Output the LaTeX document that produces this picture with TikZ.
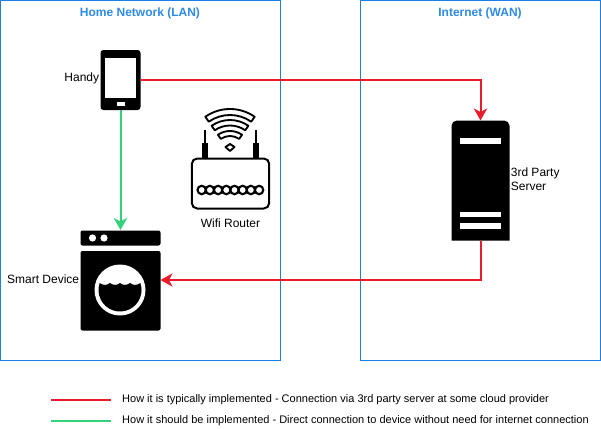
\documentclass[tikz,border=0pt]{standalone}
\usepackage{xcolor}
\usepackage{fontspec}
\setmainfont{Liberation Sans}
\usetikzlibrary{arrows.meta,positioning}
\definecolor{ZoneBlue}{HTML}{1A7FE8}
\definecolor{TitleBlue}{HTML}{2D8AE6}
\definecolor{LinkRed}{HTML}{EA1C2C}
\definecolor{LinkGreen}{HTML}{33D17A}
\tikzset{
  zone/.style={draw=ZoneBlue,line width=.75pt},
  zonetitle/.style={font=\bfseries\fontsize{9}{11}\selectfont,text=TitleBlue,inner sep=0pt},
  icon/.style={inner sep=0pt,outer sep=0pt},
  caption/.style={font=\fontsize{9}{10.5}\selectfont,inner sep=1.5pt,align=left},
  legendtext/.style={font=\fontsize{8.25}{10}\selectfont,inner sep=0pt,anchor=west},
  redflow/.style={-{Stealth[length=9pt,width=10pt,inset=2.6pt]},line width=1.5pt,draw=LinkRed},
  greenflow/.style={-{Stealth[length=9pt,width=10pt,inset=2.6pt]},line width=1.5pt,draw=LinkGreen},
  wifiband/.style={draw=black,fill=white,line width=1.4pt,line join=round}
}
\begin{document}
\begin{tikzpicture}[x=.75pt,y=.75pt]
  \useasboundingbox (0,0) rectangle (601,-429);
  % zones
  \node[zone,icon,minimum width=210pt,minimum height=270pt,anchor=north west] (lan) at (.5,-.5) {};
  \node[zone,icon,minimum width=180pt,minimum height=270pt,anchor=north west] (wan) at (360.5,-.5) {};
  \node[zonetitle] (lantitle) at (140,-13) {Home Network (LAN)};
  \node[zonetitle] (wantitle) at (480,-13) {Internet (WAN)};
  % phone
  \node[icon,fill=black,rounded corners=2.2pt,minimum width=30pt,minimum height=45pt] (phone) at (120.5,-80) {};
  \fill[white] (105,-58) rectangle (136,-98);
  \fill[white] (116.5,-102) rectangle (124.5,-105.5);
  \node[caption,left=-.7pt of phone,yshift=1pt] (handy) {Handy};
  % washing machine
  \node[icon,minimum width=60pt,minimum height=75pt] (washer) at (120.5,-280) {};
  \fill[black,rounded corners=1.5pt] (80.5,-245.5) -- (80.5,-230.5) -- (160.5,-230.5) -- (160.5,-245.5) -- cycle;
  \fill[black,rounded corners=1.5pt] (80.5,-330.5) -- (80.5,-251) -- (160.5,-251) -- (160.5,-330.5) -- cycle;
  \fill[white] (92.5,-238) circle[radius=3.6];
  \fill[white] (104,-238) circle[radius=3.6];
  \fill[white] (120,-290) circle[radius=25.5];
  \fill[black] (99.7,-283) arc[start angle=161,end angle=379,radius=21.5]
    .. controls (137,-285.5) and (133,-285.5) .. (130.1,-283)
    .. controls (127,-285.5) and (123,-285.5) .. (120,-283)
    .. controls (117,-285.5) and (113,-285.5) .. (109.9,-283)
    .. controls (107,-285.5) and (103,-285.5) .. (99.7,-283) -- cycle;
  \node[caption,left=-.7pt of washer,yshift=.5pt] (washerlabel) {Smart Device};
  % router
  \fill[black] (201.7,-143) rectangle (207.7,-158);
  \fill[black] (204,-130) rectangle (206,-143);
  \fill[black] (252.7,-143) rectangle (258.7,-158);
  \fill[black] (254.7,-130) rectangle (256.7,-143);
  \node[icon,draw=black,fill=white,line width=1.5pt,rounded corners=4pt,minimum width=58pt,minimum height=37.5pt] (router) at (230.5,-183.5) {};
  \foreach \i in {0,...,7}
    \draw[fill=white,line width=1.6pt] (201.7+8.2*\i,-190) circle[radius=4.2];
  \foreach \ro/\ri in {43/37,32/26.5,21/16}
    \draw[wifiband] (230,-152)+(55:\ro) arc[start angle=55,end angle=125,radius=\ro]
      -- ++(125:{\ri-\ro}) arc[start angle=125,end angle=55,radius=\ri] -- cycle;
  \draw[wifiband] (230,-151) -- (234.5,-147) -- (230,-144) -- (225.5,-147) -- cycle;
  \node[caption,below=6pt of router] (routerlabel) {Wifi Router};
  % server
  \node[icon,minimum width=43.5pt,minimum height=90pt] (server) at (480.5,-180.5) {};
  \fill[black,rounded corners=4pt] (451.5,-240.5) [sharp corners] -- (451.5,-200) [rounded corners=4pt] -- (451.5,-120.5) -- (509.5,-120.5) -- (509.5,-200) [sharp corners] -- (509.5,-240.5) -- cycle;
  \fill[white] (460,-138.3) rectangle (501,-144);
  \fill[white] (460,-211.7) rectangle (501,-217.3);
  \fill[white] (460,-222.7) rectangle (501,-228.7);
  \node[caption,right=-.7pt of server,yshift=1pt] (serverlabel) {3rd Party\\Server};
  % connectors
  \draw[redflow] (phone.east) -| (server.north);
  \draw[redflow] (server.south) |- (washer.east);
  \draw[greenflow] (phone.south) -- (washer.north);
  % legend
  \coordinate (reda) at (51,-399.5);
  \coordinate (redb) at (111,-399.5);
  \coordinate (greena) at (51,-421);
  \coordinate (greenb) at (111,-421);
  \draw[draw=LinkRed,line width=1.5pt] (reda) -- (redb);
  \draw[draw=LinkGreen,line width=1.5pt] (greena) -- (greenb);
  \node[legendtext,right=8.2pt of redb,anchor=west] (redtext) {How it is typically implemented - Connection via 3rd party server at some cloud provider};
  \node[legendtext,right=8.2pt of greenb,anchor=west] (greentext) {How it should be implemented - Direct connection to device without need for internet connection};
\end{tikzpicture}
\end{document}
